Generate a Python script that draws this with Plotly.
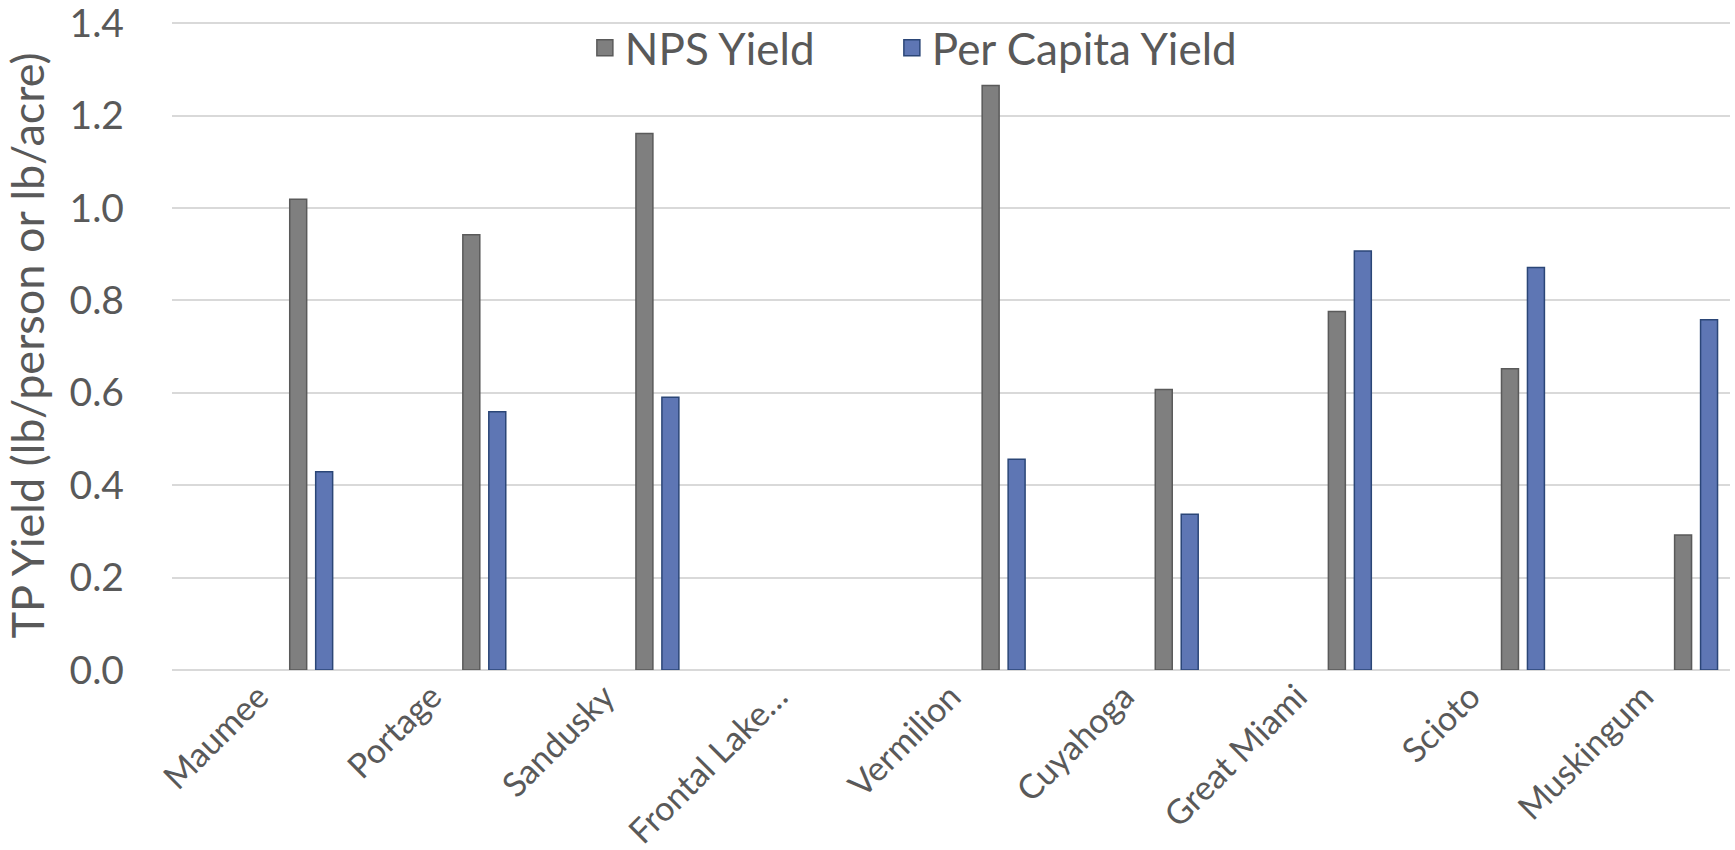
import plotly.graph_objects as go

categories = ["Maumee", "Portage", "Sandusky", "Frontal Lake…", "Vermilion",
              "Cuyahoga", "Great Miami", "Scioto", "Muskingum"]
nps_yield = [1.019, 0.942, 1.161, None, 1.265, 0.607, 0.776, 0.652, 0.292]
per_capita_yield = [0.429, 0.559, 0.590, None, 0.456, 0.337, 0.907, 0.871, 0.758]
y_ticks = [0.0, 0.2, 0.4, 0.6, 0.8, 1.0, 1.2, 1.4]

FONT = "Lato"
TXT = "#595959"
GRAY_FILL, GRAY_LINE = "#7f7f7f", "#5a5a5a"
BLUE_FILL, BLUE_LINE = "#5e76b4", "#2b4677"

fig = go.Figure()
fig.add_trace(go.Bar(x=categories, y=nps_yield, name="NPS Yield",
                     offset=0.18, width=0.098, showlegend=False,
                     marker=dict(color=GRAY_FILL, line=dict(color=GRAY_LINE, width=1.5))))
fig.add_trace(go.Bar(x=categories, y=per_capita_yield, name="Per Capita Yield",
                     offset=0.33, width=0.098, showlegend=False,
                     marker=dict(color=BLUE_FILL, line=dict(color=BLUE_LINE, width=1.5))))
# legend entries
fig.add_trace(go.Scatter(x=[None], y=[None], mode="markers", name="NPS Yield",
                         marker=dict(symbol="square", size=20, color=GRAY_FILL,
                                     line=dict(color=GRAY_LINE, width=1.5))))
fig.add_trace(go.Scatter(x=[None], y=[None], mode="markers", name="Per Capita Yield",
                         marker=dict(symbol="square", size=20, color=BLUE_FILL,
                                     line=dict(color=BLUE_LINE, width=1.5))))
# invisible spacer entry so the last legend label is not clipped
fig.add_trace(go.Scatter(x=[None], y=[None], mode="markers", name=" ",
                         marker=dict(symbol="square", size=1, color="rgba(0,0,0,0)",
                                     line=dict(width=0))))

fig.update_layout(
    width=1735, height=850,
    margin=dict(l=172, r=5, t=21, b=180),
    plot_bgcolor="white", paper_bgcolor="white",
    barmode="overlay",
    font=dict(family=FONT, color=TXT),
    legend=dict(orientation="h", x=0.265, xanchor="left", y=0.958, yanchor="middle",
                font=dict(size=44, color=TXT, family=FONT),
                entrywidth=262, entrywidthmode="pixels",
                bgcolor="rgba(0,0,0,0)", itemsizing="trace"),
)
fig.update_xaxes(type="category", categoryorder="array", categoryarray=categories,
                 range=[-0.5, len(categories) - 0.5], automargin=False,
                 tickangle=-45, tickfont=dict(size=34, color=TXT, family=FONT),
                 showgrid=False, showline=False, ticks="", ticklabelstandoff=-1,
                 ticklabeloverflow="allow", zeroline=False)
fig.update_yaxes(range=[0, 1.4045], tickvals=y_ticks, tickformat=".1f", automargin=False,
                 tickfont=dict(size=39, color=TXT, family=FONT),
                 showgrid=True, gridcolor="#d9d9d9", gridwidth=1.5,
                 zeroline=True, zerolinecolor="#d9d9d9", zerolinewidth=1.5,
                 showline=False, ticks="", ticklabelstandoff=47,
                 ticklabeloverflow="allow",
                 title=dict(text="TP Yield (lb/person or lb/acre)",
                            font=dict(size=45, color=TXT, family=FONT), standoff=12))

fig.write_html("out.html")
